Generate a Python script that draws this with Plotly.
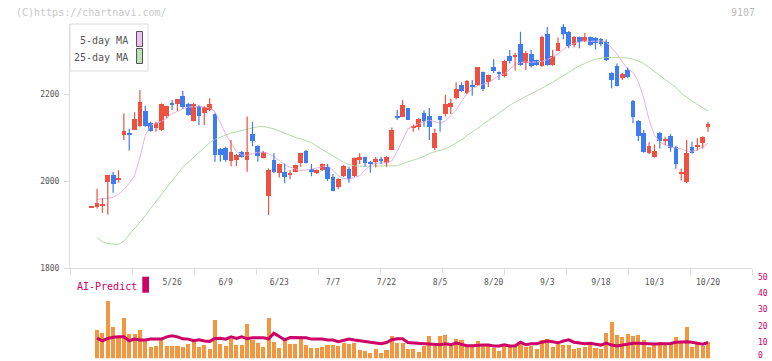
import plotly.graph_objects as go

# ---------------- data ----------------
tick_index = [15, 25, 35, 45, 55, 65, 75, 85, 95, 105, 115]
tick_labels = ["5/26", "6/9", "6/23", "7/7", "7/22", "8/5", "8/20", "9/3", "9/18", "10/3", "10/20"]

opens = [1940, 1940, 1943, 1998, 2013, 2004, 2106, 2110, 2117, 2127,
         2161, 2134, 2121, 2117, 2149, 2179, 2176, 2195, 2178, 2139,
         2172, 2157, 2163, 2154, 2074, 2077, 2046, 2048, 2067, 2048,
         2109, 2080, 2054, 1966, 2048, 2019, 2020, 2015, 2021, 2041,
         2069, 2028, 2019, 2025, 2033, 2010, 1987, 2011, 2028, 2011,
         2048, 2055, 2044, 2044, 2051, 2042, 2071, 2149, 2148, 2168,
         2123, 2125, 2156, 2149, 2077, 2149, 2154, 2171, 2190, 2221,
         2203, 2221, 2221, 2251, 2228, 2262, 2251, 2241, 2287, 2286,
         2315, 2272, 2292, 2278, 2264, 2338, 2267, 2300, 2354, 2343,
         2313, 2331, 2323, 2330, 2329, 2326, 2319, 2248, 2264, 2237,
         2255, 2184, 2138, 2111, 2064, 2056, 2111, 2093, 2103, 2079,
         2018, 1998, 2078, 2079, 2088, 2125]
highs = [1941, 1982, 1960, 2013, 2021, 2025, 2155, 2120, 2158, 2209,
         2173, 2136, 2136, 2178, 2173, 2186, 2189, 2207, 2180, 2180,
         2174, 2171, 2190, 2156, 2076, 2079, 2094, 2062, 2069, 2148,
         2136, 2082, 2069, 2029, 2064, 2040, 2040, 2025, 2038, 2065,
         2071, 2039, 2027, 2040, 2039, 2016, 2007, 2037, 2033, 2054,
         2064, 2056, 2046, 2056, 2056, 2057, 2123, 2163, 2186, 2168,
         2130, 2144, 2162, 2168, 2120, 2150, 2198, 2189, 2227, 2227,
         2232, 2232, 2262, 2252, 2245, 2280, 2252, 2279, 2301, 2295,
         2343, 2299, 2302, 2279, 2334, 2354, 2301, 2330, 2361, 2345,
         2333, 2332, 2340, 2332, 2331, 2329, 2326, 2250, 2270, 2248,
         2261, 2186, 2140, 2117, 2089, 2084, 2113, 2102, 2108, 2081,
         2029, 2094, 2090, 2098, 2103, 2136]
lows = [1939, 1937, 1927, 1923, 1973, 1996, 2094, 2070, 2117, 2125,
        2125, 2113, 2113, 2115, 2144, 2163, 2161, 2166, 2150, 2137,
        2129, 2129, 2161, 2044, 2044, 2044, 2034, 2034, 2054, 2021,
        2080, 2044, 2052, 1922, 2018, 2008, 1995, 2004, 2020, 2033,
        2040, 2011, 2016, 2023, 2000, 1977, 1981, 2009, 1996, 2009,
        2039, 2033, 2019, 2031, 2039, 2033, 2071, 2140, 2147, 2140,
        2113, 2117, 2125, 2094, 2071, 2113, 2148, 2154, 2188, 2205,
        2200, 2196, 2219, 2207, 2216, 2248, 2232, 2238, 2270, 2254,
        2265, 2255, 2261, 2265, 2262, 2265, 2265, 2299, 2326, 2305,
        2307, 2305, 2319, 2311, 2302, 2310, 2276, 2213, 2217, 2232,
        2236, 2133, 2092, 2065, 2062, 2054, 2075, 2083, 2067, 2028,
        2001, 1995, 2063, 2070, 2075, 2113]
closes = [1940, 1949, 1945, 2013, 1994, 2006, 2115, 2106, 2142, 2182,
          2127, 2115, 2134, 2176, 2172, 2175, 2188, 2169, 2152, 2177,
          2149, 2169, 2177, 2060, 2060, 2048, 2067, 2060, 2056, 2067,
          2092, 2057, 2067, 2025, 2021, 2039, 2010, 2018, 2037, 2064,
          2042, 2021, 2025, 2039, 2005, 1978, 2005, 2035, 2004, 2053,
          2055, 2042, 2039, 2051, 2047, 2056, 2117, 2146, 2175, 2140,
          2126, 2142, 2139, 2125, 2110, 2140, 2177, 2180, 2211, 2207,
          2230, 2215, 2261, 2211, 2244, 2254, 2246, 2277, 2277, 2290,
          2267, 2295, 2264, 2267, 2332, 2267, 2287, 2317, 2338, 2310,
          2331, 2320, 2331, 2313, 2317, 2314, 2278, 2232, 2218, 2246,
          2238, 2148, 2104, 2067, 2080, 2069, 2093, 2095, 2075, 2040,
          2020, 2064, 2065, 2080, 2101, 2131]

ma5 = [None, 1958, 1959, 1960, 1962, 1970, 1980, 1995, 2012, 2055,
       2105, 2128, 2132, 2137, 2144, 2155, 2160, 2166, 2170, 2171,
       2171, 2170, 2168, 2160, 2135, 2108, 2087, 2068, 2060, 2059,
       2063, 2066, 2066, 2063, 2056, 2047, 2037, 2032, 2027, 2024,
       2025, 2027, 2030, 2033, 2036, 2025, 2012, 2006, 2004, 2008,
       2012, 2025, 2036, 2041, 2042, 2042, 2046, 2068, 2094, 2120,
       2126, 2131, 2137, 2140, 2137, 2133, 2138, 2150, 2163, 2183,
       2200, 2212, 2219, 2222, 2226, 2234, 2243, 2246, 2258, 2268,
       2272, 2274, 2273, 2274, 2275, 2279, 2286, 2292, 2302, 2311,
       2317, 2320, 2322, 2321, 2321, 2322, 2320, 2306, 2292, 2274,
       2258, 2250, 2228, 2190, 2140, 2105, 2090, 2082, 2078, 2076,
       2074, 2069, 2068, 2071, 2078, 2087]
ma25 = [None, 1870, 1860, 1856, 1855, 1854, 1862, 1876, 1890, 1905,
        1920, 1937, 1953, 1969, 1985, 2001, 2018, 2032, 2043, 2054,
        2066, 2078, 2088, 2096, 2101, 2105, 2110, 2113, 2116, 2119,
        2123, 2125, 2125, 2123, 2120, 2115, 2110, 2106, 2100, 2097,
        2093, 2088, 2080, 2073, 2065, 2058, 2051, 2043, 2038, 2035,
        2034, 2034, 2034, 2034, 2034, 2034, 2034, 2035, 2040, 2044,
        2047, 2052, 2057, 2063, 2067, 2070, 2074, 2080, 2087, 2095,
        2104, 2113, 2121, 2129, 2138, 2147, 2156, 2165, 2174, 2181,
        2188, 2195, 2201, 2207, 2213, 2220, 2227, 2234, 2242, 2250,
        2258, 2265, 2270, 2276, 2280, 2282, 2284, 2284, 2284, 2284,
        2283, 2280, 2276, 2270, 2261, 2252, 2243, 2233, 2224, 2215,
        2202, 2192, 2184, 2176, 2168, 2161]

volume = [None, 17.7, 15.8, 35.7, 19.5, 13.3, 25.1, 15.2, 15.2, 17.7,
          11.5, 7.1, 7.8, 11.5, 7.8, 7.8, 7.8, 7.1, 9.0, 12.1,
          7.1, 8.4, 5.9, 23.9, 9.0, 7.8, 12.1, 8.4, 8.4, 21.4,
          11.5, 9.6, 7.1, 25.1, 10.2, 6.5, 11.5, 9.0, 9.0, 12.1,
          8.4, 6.5, 6.5, 7.1, 8.4, 8.4, 7.8, 9.6, 9.0, 9.6,
          5.3, 4.7, 3.4, 5.9, 3.4, 5.3, 14.0, 9.6, 9.6, 5.9,
          5.9, 4.0, 7.8, 14.0, 9.0, 14.0, 14.6, 7.8, 12.1, 11.5,
          7.1, 7.1, 10.8, 7.8, 7.8, 6.5, 4.7, 7.8, 7.8, 7.8,
          9.0, 7.1, 7.8, 5.9, 11.5, 12.1, 7.1, 9.0, 8.4, 8.4,
          5.9, 6.5, 7.1, 8.4, 6.5, 5.9, 15.8, 22.6, 14.6, 13.3,
          15.2, 14.0, 14.6, 11.5, 7.3, 8.4, 10.0, 8.4, 9.4, 13.5,
          9.4, 19.7, 7.3, 8.8, 7.9, 10.0]
ai_predict = [None, 12.5, 10.9, 12.3, 13.1, 13.3, 13.3, 10.9, 11.9, 11.3,
              11.3, 11.9, 11.9, 11.9, 13.3, 13.9, 13.3, 12.1, 11.9, 10.9,
              11.5, 10.7, 10.5, 12.3, 12.5, 11.9, 13.3, 12.3, 13.3, 12.1,
              12.7, 12.7, 12.7, 12.1, 15.6, 13.5, 11.5, 12.9, 12.7, 12.7,
              12.7, 11.9, 11.9, 11.9, 11.3, 11.3, 10.3, 11.3, 12.0, 11.4,
              10.9, 10.5, 10.3, 9.4, 9.0, 9.8, 11.5, 12.1, 12.1, 9.8,
              9.4, 9.4, 9.0, 8.8, 8.8, 8.4, 9.0, 8.4, 9.4, 8.4,
              7.8, 7.8, 8.2, 8.2, 8.2, 7.6, 7.6, 8.4, 7.6, 7.8,
              10.0, 8.4, 9.0, 9.0, 10.0, 10.7, 10.3, 9.6, 10.7, 11.5,
              10.0, 9.4, 9.0, 9.4, 9.0, 8.2, 9.4, 8.2, 7.6, 8.2,
              9.0, 9.4, 9.4, 9.4, 9.0, 8.8, 8.8, 8.8, 9.2, 10.0,
              10.3, 10.3, 10.0, 9.6, 8.8, 9.8]

y_ticks = [1800, 2000, 2200]
sub_ticks = [0, 10, 20, 30, 40, 50]

# ---------------- styling / layout helpers ----------------
W, H = 772, 361
UP, DOWN = "#F0513F", "#3E7CF0"
PINK, GREEN = "#E9B3EC", "#B3DBA6"
ORANGE, CRIMSON = "#F2973F", "#CC0066"
AXIS = "#DCDCDC"
MONO = "DejaVu Sans Mono"


def px(x):
    return x / W


def py(y):
    return 1 - y / H


n = len(closes)
idx = list(range(n))
x_range = [-4.05, 123.2]

fig = go.Figure()

# moving averages (drawn behind candles)
fig.add_trace(go.Scatter(x=idx, y=ma25, mode="lines", line=dict(color=GREEN, width=1), hoverinfo="skip"))
fig.add_trace(go.Scatter(x=idx, y=ma5, mode="lines", line=dict(color=PINK, width=1), hoverinfo="skip"))

# wicks
for up in (True, False):
    wx, wy = [], []
    for i in idx:
        if (closes[i] >= opens[i]) == up:
            wx += [i, i, None]
            wy += [lows[i], highs[i], None]
    fig.add_trace(go.Scatter(x=wx, y=wy, mode="lines",
                             line=dict(color=UP if up else DOWN, width=1.2), hoverinfo="skip"))

# bodies
for up in (True, False):
    bx, bb, bh = [], [], []
    for i in idx:
        if (closes[i] >= opens[i]) == up:
            bx.append(i)
            lo = min(opens[i], closes[i])
            hi = max(opens[i], closes[i])
            if hi - lo < 2.5:
                mid = (hi + lo) / 2
                lo, hi = mid - 1.25, mid + 1.25
            bb.append(lo)
            bh.append(hi - lo)
    fig.add_trace(go.Bar(x=bx, y=bh, base=bb, width=0.88,
                         marker=dict(color=UP if up else DOWN, line=dict(width=0))))

# lower panel: volume bars + AI-Predict line
fig.add_trace(go.Bar(x=idx, y=volume, width=0.76, marker=dict(color=ORANGE, line=dict(width=0)),
                     xaxis="x2", yaxis="y2"))
fig.add_trace(go.Scatter(x=idx, y=ai_predict, mode="lines", line=dict(color=CRIMSON, width=3),
                         xaxis="x2", yaxis="y2"))

minor_vals = [x_range[0] + k * (x_range[1] - x_range[0]) / 11 for k in range(12)]

fig.update_layout(
    width=W, height=H,
    margin=dict(l=0, r=0, t=0, b=0, autoexpand=False),
    paper_bgcolor="white", plot_bgcolor="white",
    showlegend=False, barmode="overlay", bargap=0,
    xaxis=dict(domain=[px(70), px(752)], range=x_range, anchor="y", automargin=False,
               showline=True, linecolor=AXIS, linewidth=1, showgrid=False, zeroline=False,
               tickmode="array", tickvals=tick_index, ticktext=tick_labels, ticks="",
               tickfont=dict(family=MONO, size=8, color="#555555"), ticklabelstandoff=6,
               minor=dict(tickmode="array", tickvals=minor_vals, ticks="outside",
                          ticklen=6, tickcolor=AXIS, tickwidth=1, showgrid=False)),
    yaxis=dict(domain=[py(268), py(24)], range=[1800, 1800 + 244 / 0.435], anchor="x",
               automargin=False,
               showline=True, linecolor=AXIS, linewidth=1, showgrid=False, zeroline=False,
               tickmode="array", tickvals=y_ticks, ticks="outside", ticklen=5, tickcolor=AXIS,
               tickfont=dict(family=MONO, size=8, color="#555555"), ticklabelstandoff=3),
    xaxis2=dict(domain=[px(70), px(752)], range=x_range, anchor="y2", visible=False,
                automargin=False),
    yaxis2=dict(domain=[py(358.3), py(277.7)], range=[0, 50], anchor="x2", side="right",
                automargin=False, showticklabels=False,
                showline=False, showgrid=False, zeroline=False, ticks=""),
)

annotations = [
    dict(text="(C)https://chartnavi.com/", x=px(14), y=py(12), xanchor="left", yanchor="middle",
         font=dict(family=MONO, size=10, color="#C8C8C8")),
    dict(text="9107", x=px(757), y=py(12), xanchor="right", yanchor="middle",
         font=dict(family=MONO, size=10, color="#BBBBBB")),
    dict(text="5-day MA", x=px(130), y=py(40.5), xanchor="right", yanchor="middle",
         font=dict(family=MONO, size=10, color="#555555")),
    dict(text="25-day MA", x=px(130), y=py(57), xanchor="right", yanchor="middle",
         font=dict(family=MONO, size=10, color="#555555")),
    dict(text="AI-Predict", x=px(75), y=py(286), xanchor="left", yanchor="middle",
         font=dict(family=MONO, size=10, color=CRIMSON)),
]
for a in annotations:
    a.update(xref="paper", yref="paper", showarrow=False)
# right-hand scale labels of the lower panel, placed on its own y axis
for v in sub_ticks:
    annotations.append(dict(text=str(v), xref="paper", yref="y2", x=px(756), y=v,
                            xanchor="left", yanchor="middle", showarrow=False,
                            yshift=3 if v == 0 else 0,
                            font=dict(family=MONO, size=8, color=CRIMSON)))
fig.update_layout(annotations=annotations)

shapes = [
    dict(type="rect", x0=px(70), x1=px(148), y0=py(71), y1=py(24),
         line=dict(color=AXIS, width=1), fillcolor="white", layer="above"),
    dict(type="rect", x0=px(136.5), x1=px(142.5), y0=py(46.5), y1=py(31.5),
         line=dict(color="#555555", width=1), fillcolor="#EFC0F0", layer="above"),
    dict(type="rect", x0=px(136.5), x1=px(142.5), y0=py(63.5), y1=py(48.5),
         line=dict(color="#555555", width=1), fillcolor="#BDE0B4", layer="above"),
    dict(type="rect", x0=px(142.3), x1=px(149), y0=py(292.7), y1=py(276.7),
         line=dict(width=0), fillcolor=CRIMSON, layer="above"),
]
for s in shapes:
    s.update(xref="paper", yref="paper")
fig.update_layout(shapes=shapes)

fig.write_html("out.html", config={"displayModeBar": False},
               post_script="document.body.style.margin='0';document.body.style.padding='0';")
